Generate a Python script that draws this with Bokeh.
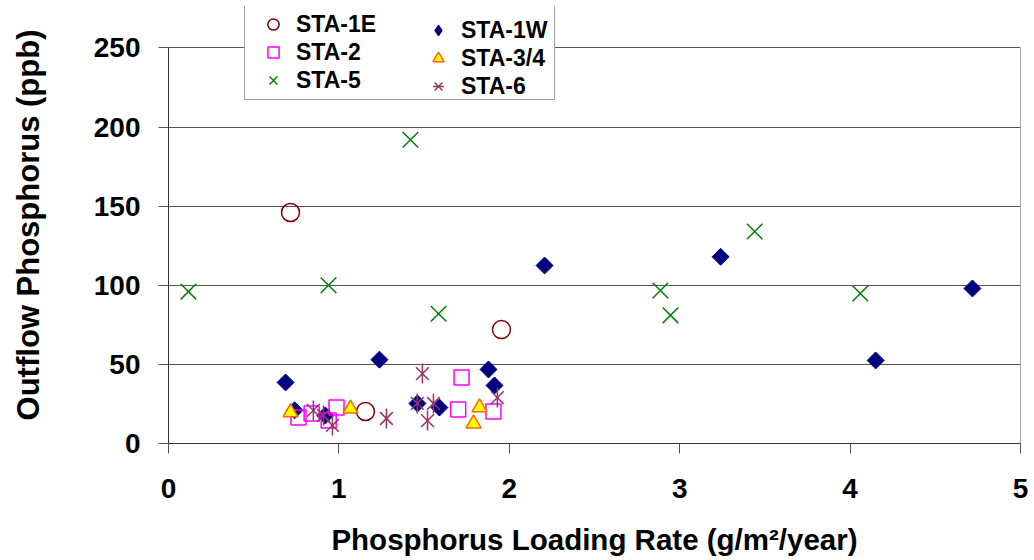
import numpy as np
from bokeh.plotting import figure
from bokeh.models import Legend, LegendItem, Range1d, FixedTicker
from bokeh.embed import file_html
from bokeh.resources import INLINE

# Loading rate (g/m2/year) and outflow phosphorus (ppb) per treatment area
sta1e_x = [0.716, 1.156, 1.954]
sta1e_y = [146, 20.2, 72]

sta1w_x = [0.687, 0.74, 0.92, 1.238, 1.461, 1.59, 1.878, 1.913, 2.207, 3.24, 4.15, 4.718]
sta1w_y = [38.6, 21, 17.7, 53, 25.3, 22.7, 46.8, 36.7, 112.5, 118, 52.5, 98]

sta2_x = [0.763, 0.84, 0.94, 0.986, 1.72, 1.70, 1.907]
sta2_y = [16.4, 19, 14.5, 22.8, 41.7, 21.5, 20.2]

sta34_x = [0.716, 1.068, 1.825, 1.79]
sta34_y = [19.6, 22, 22.8, 12.6]

sta5_x = [0.117, 0.939, 1.42, 1.585, 2.887, 2.946, 3.44, 4.06]
sta5_y = [96, 100, 192, 82, 96.7, 81, 134, 94.8]

sta6_x = [0.85, 0.91, 0.962, 1.279, 1.49, 1.46, 1.555, 1.52, 1.93]
sta6_y = [20.9, 17.7, 11.4, 15.8, 44.2, 25.3, 25.3, 14.5, 29]

x_ticks = [0, 1, 2, 3, 4, 5]
y_ticks = [0, 50, 100, 150, 200, 250]
X_MAX = 5
Y_MAX = 250

FONT = "Liberation Sans"
GRID = "#555555"

# the frame reaches above the 250 line so the legend box can sit over the top edge
p = figure(width=1034, height=560, output_backend="svg", toolbar_location=None,
           x_range=Range1d(0, X_MAX), y_range=Range1d(0, 276.2),
           min_border_left=168, min_border_right=14, min_border_top=6,
           min_border_bottom=117)

p.background_fill_color = "white"
p.border_fill_color = "white"
p.outline_line_color = None

p.xgrid.visible = False
p.ygrid.grid_line_color = GRID
p.ygrid.grid_line_width = 1
p.ygrid.ticker = FixedTicker(ticks=y_ticks)

for ax in (p.xaxis[0], p.yaxis[0]):
    ax.axis_line_color = "#333333"
    ax.major_tick_line_color = "#555555"
    ax.minor_tick_line_color = None
    ax.major_tick_in = 0
    ax.major_tick_out = 10
    ax.major_label_text_font = FONT
    ax.major_label_text_font_style = "bold"
    ax.major_label_text_font_size = "28px"
    ax.major_label_text_color = "black"
    ax.axis_label_text_font = FONT
    ax.axis_label_text_font_style = "bold"
    ax.axis_label_text_color = "black"

p.xaxis.axis_label_text_font_size = "29.5px"
p.yaxis.axis_label_text_font_size = "31px"
p.xaxis.ticker = FixedTicker(ticks=x_ticks)
p.yaxis.ticker = FixedTicker(ticks=y_ticks)
p.yaxis.bounds = (0, Y_MAX)
p.xaxis.axis_label = "Phosphorus Loading Rate (g/m²/year)"
p.yaxis.axis_label = "Outflow Phosphorus (ppb)"
p.xaxis.major_label_standoff = 25
p.xaxis.axis_label_standoff = 22
p.yaxis.major_label_standoff = 18
p.yaxis.axis_label_standoff = 45

# right-hand border of the plot area
p.segment(x0=[X_MAX], y0=[0], x1=[X_MAX], y1=[Y_MAX], line_color=GRID, line_width=1)

r1e = p.scatter(sta1e_x, sta1e_y, marker="circle", size=18, fill_color=None,
                line_color="#800000", line_width=1.5)
r1w = p.scatter(sta1w_x, sta1w_y, marker="square", angle=np.pi / 4, size=12,
                fill_color="#000080", line_color="#000080", line_width=1)
r2 = p.scatter(sta2_x, sta2_y, marker="square", size=15, fill_color=None,
               line_color="#FF00FF", line_width=1.5)
r34 = p.scatter(sta34_x, sta34_y, marker="triangle", size=15, fill_color="#FFFF00",
                line_color="#FF6600", line_width=1.5)
r5 = p.scatter(sta5_x, sta5_y, marker="x", size=22, line_color="#008000", line_width=1.5)
r6a = p.scatter(sta6_x, sta6_y, marker="x", size=18, line_color="#993366", line_width=1.5)
r6b = p.scatter(sta6_x, sta6_y, marker="dash", angle=np.pi / 2, size=20,
                line_color="#993366", line_width=1.5)

# legend key for STA-1W: legend keys are drawn unrotated, so a hidden
# diamond-marker copy of the series supplies the key glyph
k1w = p.scatter(sta1w_x, sta1w_y, marker="diamond", size=12, visible=False,
                fill_color="#000080", line_color="#000080", line_width=1)


def style_legend(lg):
    lg.label_text_font = FONT
    lg.label_text_font_style = "bold"
    lg.label_text_font_size = "23px"
    lg.label_text_color = "black"
    lg.glyph_width = 46
    lg.glyph_height = 28
    lg.label_height = 28
    lg.label_standoff = 0
    lg.spacing = 0
    lg.padding = 5
    lg.margin = 0


# left column carries the frame of the whole legend box
legend_left = Legend(items=[
    LegendItem(label="STA-1E", renderers=[r1e]),
    LegendItem(label="STA-2", renderers=[r2]),
    LegendItem(label="STA-5", renderers=[r5]),
], location=(76, 343))
style_legend(legend_left)
legend_left.label_width = 253
legend_left.border_line_color = "#444444"
legend_left.border_line_width = 1
legend_left.background_fill_color = "white"
legend_left.background_fill_alpha = 1

legend_right = Legend(items=[
    LegendItem(label="STA-1W", renderers=[k1w]),
    LegendItem(label="STA-3/4", renderers=[r34]),
    LegendItem(label="STA-6", renderers=[r6a, r6b]),
], location=(247, 343))
style_legend(legend_right)
legend_right.border_line_color = None
legend_right.background_fill_alpha = 0

p.add_layout(legend_left, "center")
p.add_layout(legend_right, "center")

open("out.html", "w").write(file_html(p, INLINE))
